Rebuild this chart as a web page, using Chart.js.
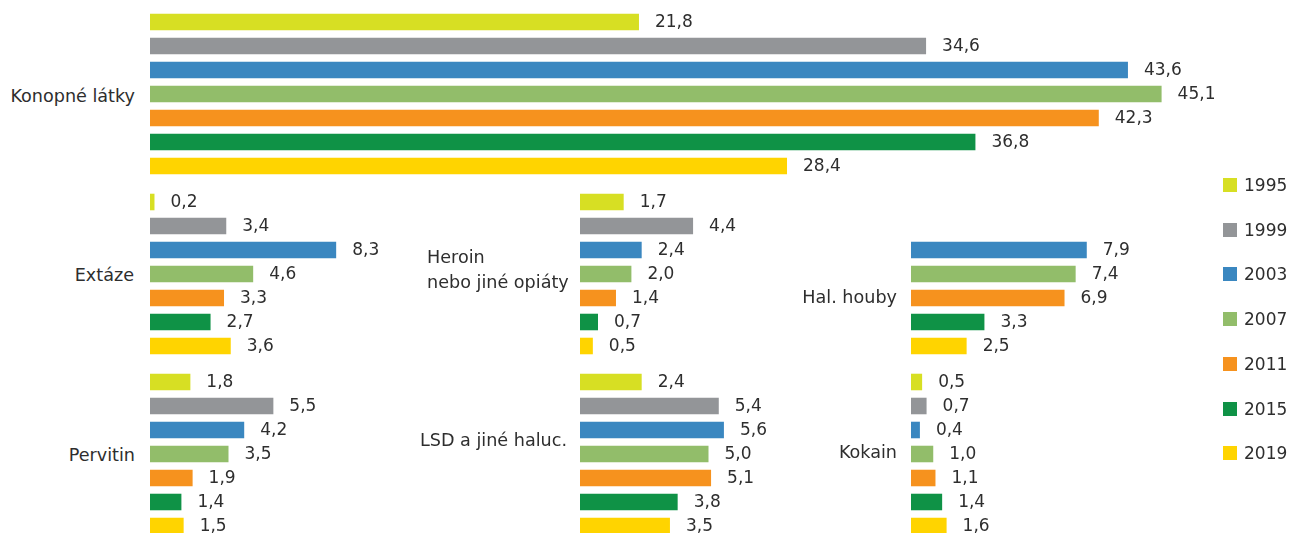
<!DOCTYPE html>
<html lang="cs">
<head>
<meta charset="UTF-8">
<title>Užívání drog 1995–2019</title>
<script src="https://cdn.jsdelivr.net/npm/chart.js@4.4.0/dist/chart.umd.min.js"></script>
<style>
    html, body { margin: 0; padding: 0; background: #fff; }
    body {
        width: 1293px; height: 533px; overflow: hidden; position: relative;
        font-family: 'DejaVu Sans', sans-serif; font-size: 17px; color: #2e2e2e;
    }
    canvas { position: absolute; }
    .label { position: absolute; width: 240px; text-align: right; line-height: 24px; white-space: nowrap; font-size: 17.6px; }
    .label.left { text-align: left; line-height: 25px; }
    .legend-item { position: absolute; left: 1223px; height: 20px; line-height: 20px; white-space: nowrap; }
    .legend-item .box { position: absolute; left: 0; top: 3px; width: 14px; height: 14px; }
    .legend-item .txt { position: absolute; left: 21px; top: 0; }
</style>
</head>
<body>
<script>
// --- Data ---
const years = ['1995', '1999', '2003', '2007', '2011', '2015', '2019'];
const konopneLatky = [21.8, 34.6, 43.6, 45.1, 42.3, 36.8, 28.4];
const extaze = [0.2, 3.4, 8.3, 4.6, 3.3, 2.7, 3.6];
const heroin = [1.7, 4.4, 2.4, 2.0, 1.4, 0.7, 0.5];
const halHouby = [null, null, 7.9, 7.4, 6.9, 3.3, 2.5];
const pervitin = [1.8, 5.5, 4.2, 3.5, 1.9, 1.4, 1.5];
const lsd = [2.4, 5.4, 5.6, 5.0, 5.1, 3.8, 3.5];
const kokain = [0.5, 0.7, 0.4, 1.0, 1.1, 1.4, 1.6];

// --- Styl ---
const yearColors = ['#d7df23', '#939598', '#3a87c0', '#92bd6a', '#f6921e', '#0f9246', '#ffd400'];
const textColor = '#2e2e2e';
const font = '17px "DejaVu Sans", sans-serif';

// --- Panely (pozice a měřítko v px na jednotku) ---
const panels = [
    { values: konopneLatky, name: 'Konopné látky', left: 150, top: 10, width: 1100, pxPerUnit: 22.43, labelRight: 135, labelY: 96 },
    { values: extaze, name: 'Extáze', left: 150, top: 190, width: 270, pxPerUnit: 22.43, labelRight: 134, labelY: 275 },
    { values: heroin, name: 'Heroin<br>nebo jiné opiáty', left: 580, top: 190, width: 250, pxPerUnit: 25.7, labelLeft: 427, labelY: 270 },
    { values: halHouby, name: 'Hal. houby', left: 911, top: 190, width: 290, pxPerUnit: 22.25, labelRight: 897, labelY: 297 },
    { values: pervitin, name: 'Pervitin', left: 150, top: 370, width: 270, pxPerUnit: 22.43, labelRight: 135, labelY: 455 },
    { values: lsd, name: 'LSD a jiné haluc.', left: 580, top: 370, width: 250, pxPerUnit: 25.7, labelRight: 567, labelY: 440 },
    { values: kokain, name: 'Kokain', left: 911, top: 370, width: 290, pxPerUnit: 22.25, labelRight: 897, labelY: 452 }
];

function formatValue(v) {
    return v.toFixed(1).replace('.', ',');
}

// hodnoty vpravo od sloupců
const valueLabels = {
    id: 'valueLabels',
    afterDatasetsDraw(chart) {
        const ctx = chart.ctx;
        const data = chart.data.datasets[0].data;
        ctx.save();
        ctx.font = font;
        ctx.fillStyle = textColor;
        ctx.textBaseline = 'middle';
        chart.getDatasetMeta(0).data.forEach((bar, i) => {
            if (data[i] == null) return;
            ctx.fillText(formatValue(data[i]), bar.x + 16, bar.y + 1);
        });
        ctx.restore();
    }
};

function makePanel(p) {
    const canvas = document.createElement('canvas');
    canvas.width = p.width;
    canvas.height = 168;
    canvas.style.left = p.left + 'px';
    canvas.style.top = p.top + 'px';
    document.body.appendChild(canvas);

    new Chart(canvas.getContext('2d'), {
        type: 'bar',
        data: {
            labels: years,
            datasets: [{
                data: p.values,
                backgroundColor: yearColors,
                borderWidth: 0,
                categoryPercentage: 1,
                barPercentage: 0.69
            }]
        },
        options: {
            indexAxis: 'y',
            responsive: false,
            animation: false,
            devicePixelRatio: 1,
            layout: { padding: 0 },
            scales: {
                x: { display: false, min: 0, max: p.width / p.pxPerUnit },
                y: { display: false }
            },
            plugins: { legend: { display: false }, tooltip: { enabled: false } }
        },
        plugins: [valueLabels]
    });

    const label = document.createElement('div');
    label.className = 'label';
    label.innerHTML = p.name;
    if (p.labelLeft !== undefined) {
        label.classList.add('left');
        label.style.left = p.labelLeft + 'px';
        label.style.top = (p.labelY - 25) + 'px';
    } else {
        label.style.left = (p.labelRight - 240) + 'px';
        label.style.top = (p.labelY - 12) + 'px';
    }
    document.body.appendChild(label);
}

function makeLegend() {
    years.forEach((year, i) => {
        const item = document.createElement('div');
        item.className = 'legend-item';
        item.style.top = (185 + i * 44.7 - 10) + 'px';
        item.innerHTML = `<span class="box" style="background:${yearColors[i]}"></span><span class="txt">${year}</span>`;
        document.body.appendChild(item);
    });
}

// --- Inicializace ---
panels.forEach(makePanel);
makeLegend();
</script>
</body>
</html>
